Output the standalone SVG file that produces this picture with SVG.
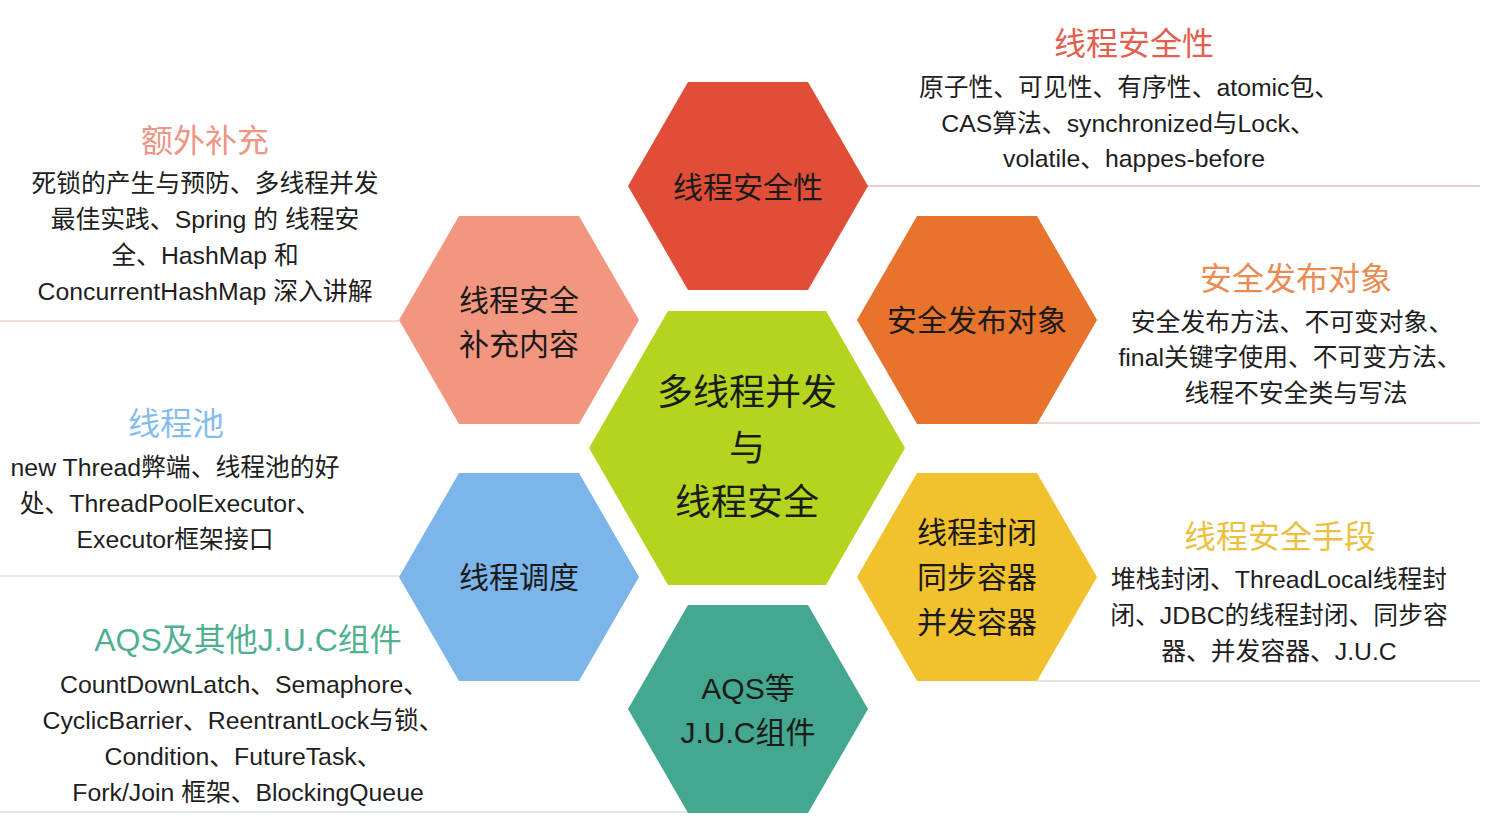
<svg xmlns="http://www.w3.org/2000/svg" xmlns:xlink="http://www.w3.org/1999/xlink" width="1486" height="822" viewBox="0 0 1486 822">
<style>
  text { font-family: "Liberation Sans", "Noto Sans CJK SC", sans-serif; text-anchor: middle; dominant-baseline: central; }
  .hl { font-size: 30px; fill: #1a1a1a; }
  .hc { font-size: 36px; fill: #1a1a1a; }
  .tt { font-size: 32px; }
  .bd { font-size: 24.8px; fill: #1e1e1e; }
  .ln { fill: none; stroke-width: 1.5; }
</style>
<defs>
  <polygon id="hexS" points="-120,0 -60,-104 60,-104 120,0 60,104 -60,104"/>
  <polygon id="hexL" points="-158,0 -79,-137 79,-137 158,0 79,137 -79,137"/>
</defs>
<rect width="1486" height="822" fill="#ffffff"/>
<g id="connectors">
  <path class="ln" d="M867,186 H1480" stroke="#e6bcbc"/>
  <path class="ln" d="M0,321 H399" stroke="#f1d2c9"/>
  <path class="ln" d="M1038,423 H1480" stroke="#e2d0c8"/>
  <path class="ln" d="M1037,681 H1480" stroke="#e0ddd6"/>
  <path class="ln" d="M0,576 H399" stroke="#dde1e6"/>
  <path class="ln" d="M0,812 H688" stroke="#cfe6df"/>
</g>
<g id="node-center">
  <use xlink:href="#hexL" x="747" y="448" fill="#B4D41E"/>
  <text class="hc" x="747" y="392">多线程并发</text>
  <text class="hc" x="747" y="448">与</text>
  <text class="hc" x="747" y="502">线程安全</text>
</g>
<g id="node-safety">
  <use xlink:href="#hexS" x="748" y="186" fill="#E14D36"/>
  <text class="hl" x="748" y="187">线程安全性</text>
</g>
<g id="node-extra">
  <use xlink:href="#hexS" x="519" y="320" fill="#F39680"/>
  <text class="hl" x="519" y="300">线程安全</text>
  <text class="hl" x="519" y="344">补充内容</text>
</g>
<g id="node-publish">
  <use xlink:href="#hexS" x="977" y="320" fill="#E8732C"/>
  <text class="hl" x="977" y="320">安全发布对象</text>
</g>
<g id="node-schedule">
  <use xlink:href="#hexS" x="519" y="577" fill="#7BB5EA"/>
  <text class="hl" x="519" y="577">线程调度</text>
</g>
<g id="node-means">
  <use xlink:href="#hexS" x="977" y="577" fill="#F2C12E"/>
  <text class="hl" x="977" y="532">线程封闭</text>
  <text class="hl" x="977" y="577">同步容器</text>
  <text class="hl" x="977" y="622">并发容器</text>
</g>
<g id="node-aqs">
  <use xlink:href="#hexS" x="748" y="709" fill="#44A78F"/>
  <text class="hl" x="748" y="688">AQS等</text>
  <text class="hl" x="748" y="732">J.U.C组件</text>
</g>
<g id="desc-safety">
  <text class="tt" x="1134" y="44" fill="#E2604F">线程安全性</text>
  <text class="bd" x="1129" y="87">原子性、可见性、有序性、atomic包、</text>
  <text class="bd" x="1128" y="123">CAS算法、synchronized与Lock、</text>
  <text class="bd" x="1134" y="158">volatile、happes-before</text>
</g>
<g id="desc-extra">
  <text class="tt" x="205" y="141" fill="#EE9583">额外补充</text>
  <text class="bd" x="205" y="183">死锁的产生与预防、多线程并发</text>
  <text class="bd" x="205" y="219">最佳实践、Spring 的 线程安</text>
  <text class="bd" x="205" y="255">全、HashMap 和</text>
  <text class="bd" x="205" y="291">ConcurrentHashMap 深入讲解</text>
</g>
<g id="desc-pool">
  <text class="tt" x="176" y="424" fill="#86BDEB">线程池</text>
  <text class="bd" x="175" y="467">new Thread弊端、线程池的好</text>
  <text class="bd" x="170" y="503">处、ThreadPoolExecutor、</text>
  <text class="bd" x="175" y="539">Executor框架接口</text>
</g>
<g id="desc-aqs">
  <text class="tt" x="248" y="640" fill="#4FB08F">AQS及其他J.U.C组件</text>
  <text class="bd" x="244" y="684">CountDownLatch、Semaphore、</text>
  <text class="bd" x="243" y="720">CyclicBarrier、ReentrantLock与锁、</text>
  <text class="bd" x="243" y="756">Condition、FutureTask、</text>
  <text class="bd" x="248" y="792">Fork/Join 框架、BlockingQueue</text>
</g>
<g id="desc-publish">
  <text class="tt" x="1296" y="279" fill="#EA8B52">安全发布对象</text>
  <text class="bd" x="1292" y="322">安全发布方法、不可变对象、</text>
  <text class="bd" x="1290" y="357">final关键字使用、不可变方法、</text>
  <text class="bd" x="1296" y="393">线程不安全类与写法</text>
</g>
<g id="desc-means">
  <text class="tt" x="1280" y="537" fill="#EDBF3F">线程安全手段</text>
  <text class="bd" x="1279" y="579">堆栈封闭、ThreadLocal线程封</text>
  <text class="bd" x="1279" y="615">闭、JDBC的线程封闭、同步容</text>
  <text class="bd" x="1279" y="651">器、并发容器、J.U.C</text>
</g>
</svg>
